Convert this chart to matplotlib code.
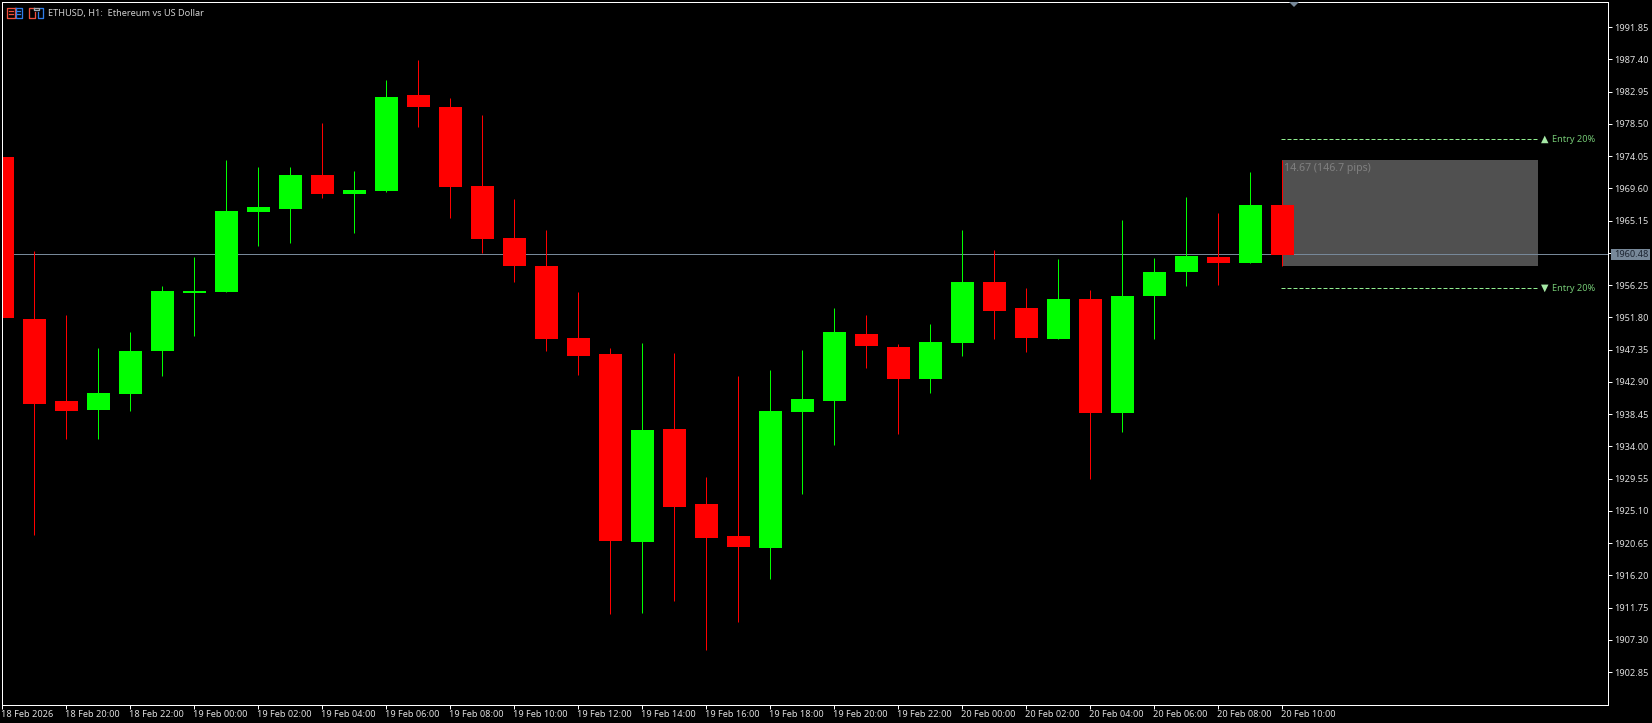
import matplotlib
matplotlib.use('Agg')
import matplotlib.pyplot as plt
from matplotlib.lines import Line2D
from matplotlib.patches import Rectangle, Polygon
from matplotlib.transforms import ScaledTranslation

W = 1652
H = 723

# hourly candles, 18 Feb 18:00 -> 20 Feb 10:00
opens = [1973.95, 1951.60, 1940.28, 1939.04, 1941.25, 1947.18, 1955.19, 1955.32, 1966.36, 1966.78,
         1971.47, 1968.85, 1969.26, 1982.51, 1980.85, 1969.95, 1962.77, 1958.91, 1948.98, 1946.77,
         1920.83, 1936.42, 1926.07, 1921.66, 1920.00, 1938.77, 1940.28, 1949.53, 1947.74, 1943.32,
         1948.29, 1956.70, 1953.12, 1948.84, 1954.36, 1938.63, 1954.77, 1958.09, 1960.15, 1959.33,
         1967.33]
highs = [1973.95, 1960.98, 1952.15, 1947.60, 1949.80, 1956.15, 1960.15, 1973.54, 1972.57, 1972.57,
         1978.64, 1972.02, 1984.58, 1987.34, 1982.09, 1979.75, 1968.16, 1963.88, 1955.32, 1947.60,
         1948.29, 1946.91, 1929.80, 1943.73, 1944.56, 1947.32, 1953.12, 1952.15, 1948.15, 1950.91,
         1963.88, 1961.12, 1955.88, 1959.88, 1955.60, 1965.26, 1960.02, 1968.44, 1966.23, 1971.89,
         1973.54]
lows = [1951.78, 1921.79, 1935.04, 1935.04, 1938.90, 1943.73, 1949.25, 1955.32, 1961.67, 1962.09,
        1968.30, 1963.47, 1969.12, 1978.09, 1965.53, 1960.71, 1956.70, 1947.18, 1943.87, 1910.89,
        1911.03, 1912.69, 1905.92, 1909.79, 1915.72, 1927.45, 1934.21, 1944.84, 1935.73, 1941.39,
        1946.49, 1948.84, 1947.05, 1948.84, 1929.52, 1936.01, 1948.84, 1956.15, 1956.29, 1959.33,
        1958.91]
closes = [1951.78, 1939.91, 1938.90, 1941.39, 1947.18, 1955.46, 1955.46, 1966.50, 1967.05, 1971.47,
          1968.85, 1969.40, 1982.23, 1980.85, 1969.81, 1962.64, 1958.91, 1948.84, 1946.49, 1920.96,
          1936.28, 1925.66, 1921.38, 1920.14, 1938.90, 1940.56, 1949.80, 1947.87, 1943.32, 1948.43,
          1956.70, 1952.71, 1948.98, 1954.36, 1938.63, 1954.77, 1958.09, 1960.29, 1959.33, 1967.33,
          1960.43]

price_ticks = [1991.85, 1987.40, 1982.95, 1978.50, 1974.05, 1969.60, 1965.15, 1960.70, 1956.25, 1951.80,
               1947.35, 1942.90, 1938.45, 1934.00, 1929.55, 1925.10, 1920.65, 1916.20, 1911.75, 1907.30,
               1902.85]
time_labels = ['18 Feb 2026', '18 Feb 20:00', '18 Feb 22:00', '19 Feb 00:00', '19 Feb 02:00', '19 Feb 04:00',
               '19 Feb 06:00', '19 Feb 08:00', '19 Feb 10:00', '19 Feb 12:00', '19 Feb 14:00', '19 Feb 16:00',
               '19 Feb 18:00', '19 Feb 20:00', '19 Feb 22:00', '20 Feb 00:00', '20 Feb 02:00', '20 Feb 04:00',
               '20 Feb 06:00', '20 Feb 08:00', '20 Feb 10:00']
last_price = 1960.48
entry_up = 1976.37
entry_down = 1955.81
box_top = 1973.54
box_range = 14.67

plt.rcParams['font.family'] = ['Noto Sans', 'DejaVu Sans']

PX = 0.72  # one pixel in points at dpi 100
LABEL_SIZE = 6.6
LABEL_COL = '#e0e0e0'
fig = plt.figure(figsize=(W / 100, H / 100), dpi=100, facecolor='black')
# slightly under the .5 so the 1px lines snap onto the same pixels as the reference
left, right, top, bottom = 2.2, 1608.2, 1.8, 704.8
ax = fig.add_axes([left / W, 1 - bottom / H, (right - left) / W, (bottom - top) / H], facecolor='black')
ax.set_xlim(0, (right - left) / 32)
ax.set_ylim(1898.339, 1995.349)


def fx(x):
    return x / W


def fy(y):
    return 1 - y / H


# selection box and entry lines sit under the candles
ax.add_patch(Rectangle((40, box_top - box_range), 8, box_range, facecolor='#505050', edgecolor='none', zorder=1))
for level in [entry_up, entry_down]:
    ax.plot([39.97, 48], [level, level], color='#90ee90', lw=PX, ls=(0, (4, 2)), zorder=1.5)
ax.text(40.07, box_top - 0.45, '14.67 (146.7 pips)', color='#808080', fontsize=7.6, va='top', ha='left', zorder=2)
ax.text(48.09, entry_up, '▲', color='#a5e8a5', fontsize=7, va='center', ha='left', zorder=2)
ax.text(48.09, entry_down, '▼', color='#a5e8a5', fontsize=7, va='center', ha='left', zorder=2)
ax.text(48.43, entry_up, 'Entry 20%', color='#74c874', fontsize=LABEL_SIZE, va='center', ha='left', zorder=2)
ax.text(48.43, entry_down, 'Entry 20%', color='#74c874', fontsize=LABEL_SIZE, va='center', ha='left', zorder=2)

# current price line
ax.axhline(last_price, color='#778899', lw=PX, zorder=2.5)

# candles
for i in range(len(opens)):
    col = '#00ff00' if closes[i] >= opens[i] else '#ff0000'
    ax.vlines(i, lows[i], highs[i], color=col, lw=PX, zorder=3)
    ax.bar(i, abs(closes[i] - opens[i]), width=23 / 32, bottom=min(opens[i], closes[i]), color=col,
           linewidth=0, zorder=3.5)

for s in ['left', 'right', 'top', 'bottom']:
    ax.spines[s].set_color('white')
    ax.spines[s].set_linewidth(PX)
    ax.spines[s].set_zorder(5)

ax.yaxis.tick_right()
ax.set_yticks(price_ticks)
ax.set_yticklabels(['%.2f' % p for p in price_ticks])
ax.tick_params(axis='y', colors=LABEL_COL, length=2.6, width=PX, pad=1.8, labelsize=LABEL_SIZE, color='white')
ax.set_xticks(range(0, 2 * len(time_labels), 2))
ax.set_xticklabels(time_labels, ha='left')
ax.tick_params(axis='x', colors=LABEL_COL, length=2.6, width=PX, pad=1.4, labelsize=LABEL_SIZE, color='white')
nudge = ScaledTranslation(-1.2 / 100, 0, fig.dpi_scale_trans)
for lab in ax.get_xticklabels():
    lab.set_transform(lab.get_transform() + nudge)

# price tag over the axis labels
fig.add_artist(Rectangle((fx(1611), fy(260)), 39 / W, 11 / H, transform=fig.transFigure, facecolor='#778899',
                         edgecolor='none', zorder=6))
fig.text(fx(1614), fy(254.5), '%.2f' % last_price, color='#1c2430', fontsize=LABEL_SIZE, va='center', ha='left', zorder=7)

# shift marker at the top
fig.add_artist(Polygon([(fx(1289), fy(2)), (fx(1299), fy(2)), (fx(1294), fy(7))], transform=fig.transFigure,
                       facecolor='#778899', edgecolor='none', zorder=6))

# header text and the two little icons
fig.text(fx(48), fy(13.5), 'ETHUSD, H1:  Ethereum vs US Dollar', color='#d0d0d0', fontsize=LABEL_SIZE, va='center', ha='left')


def icon_line(xs, ys, col):
    fig.add_artist(Line2D([fx(v) for v in xs], [fy(v) for v in ys], color=col, lw=PX * 1.3, transform=fig.transFigure))


red = '#f0503c'
blue = '#2f7de8'
icon_line([14.5, 7.5, 7.5, 14.5, 14.5], [7.5, 7.5, 17.5, 17.5, 7.5], red)
icon_line([15.5, 21.5, 21.5, 15.5, 15.5], [7.5, 7.5, 17.5, 17.5, 7.5], blue)
for y in [10.5, 13.5]:
    icon_line([9, 13], [y, y], red)
    icon_line([17, 20], [y, y], blue)
icon_line([34.5, 34.5, 28.5, 28.5, 32.5], [12, 17.5, 17.5, 7.5, 7.5], red)
icon_line([37.5, 37.5, 42.5, 42.5, 39.5], [12, 17.5, 17.5, 7.5, 7.5], blue)
icon_line([33.5, 38.5, 38.5, 33.5, 33.5], [7.5, 7.5, 9.5, 9.5, 7.5], '#a0a8b0')

fig.savefig('out.png', dpi=100, facecolor='black')
